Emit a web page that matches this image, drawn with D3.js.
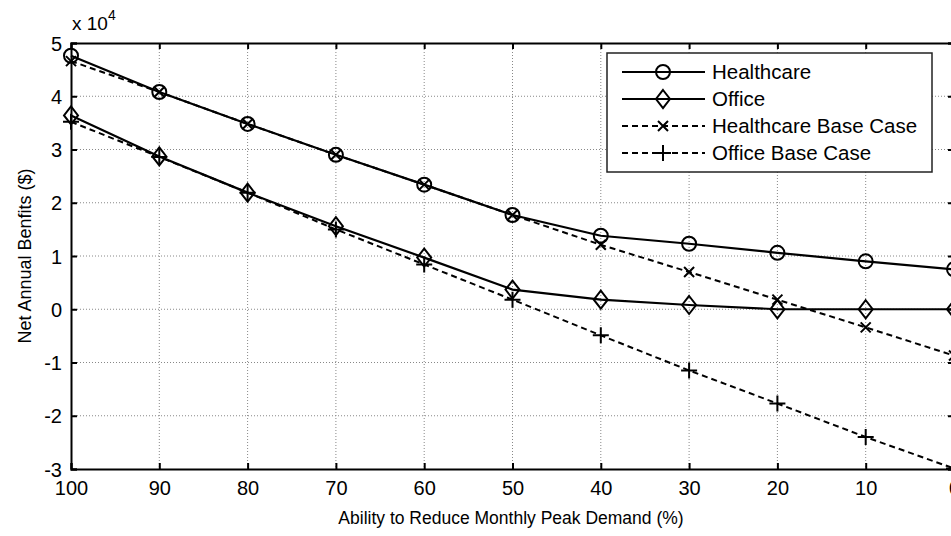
<!DOCTYPE html>
<html><head><meta charset="utf-8">
<script src="https://cdn.jsdelivr.net/npm/d3@7"></script>
<style>body{margin:0;background:#fff}svg{display:block}text{font-family:Arial,"Liberation Sans",sans-serif;fill:#000}</style>
</head><body><svg id="c" width="951" height="536"></svg>
<script>
const xValues = [100, 90, 80, 70, 60, 50, 40, 30, 20, 10, 0];
const healthcare = [4.76, 4.08, 3.48, 2.9, 2.34, 1.77, 1.38, 1.23, 1.06, 0.9, 0.75];
const office = [3.64, 2.87, 2.19, 1.56, 0.97, 0.37, 0.18, 0.08, 0.0, 0.0, 0.0];
const healthcareBase = [4.66, 4.08, 3.48, 2.9, 2.34, 1.77, 1.21, 0.7, 0.18, -0.34, -0.87];
const officeBase = [3.52, 2.86, 2.19, 1.5, 0.84, 0.18, -0.49, -1.15, -1.77, -2.4, -2.99];
const xTicks = [100, 90, 80, 70, 60, 50, 40, 30, 20, 10, 0];
const yTicks = [-3, -2, -1, 0, 1, 2, 3, 4, 5];
const seriesNames = ["Healthcare", "Office", "Healthcare Base Case", "Office Base Case"];

const svg = d3.select("#c");
const L = 71, R = 954, T = 43, B = 469;
const x = d3.scaleLinear().domain([100, 0]).range([L, R]);
const y = d3.scaleLinear().domain([-3, 5]).range([B, T]);
const fmt = d => String(d);

// grid
const g = svg.append("g");
g.selectAll(".vg").data(xTicks.filter(d => d !== 100 && d !== 0)).enter().append("line")
  .attr("x1", d => x(d)).attr("x2", d => x(d)).attr("y1", T).attr("y2", B)
  .attr("stroke", "#888").attr("stroke-width", 1).attr("stroke-dasharray", "1,2");
g.selectAll(".hg").data(yTicks.filter(d => d !== -3 && d !== 5)).enter().append("line")
  .attr("x1", L).attr("x2", R).attr("y1", d => y(d)).attr("y2", d => y(d))
  .attr("stroke", "#888").attr("stroke-width", 1).attr("stroke-dasharray", "1,2");

// axes
const xAxis = d3.axisBottom(x).tickValues(xTicks).tickSize(-6).tickPadding(12).tickFormat(fmt);
const xa = svg.append("g").attr("transform", `translate(0,${B})`).call(xAxis);
const xTop = d3.axisTop(x).tickValues(xTicks).tickSize(-6).tickFormat("");
const xt = svg.append("g").attr("transform", `translate(0,${T})`).call(xTop);
const yAxis = d3.axisLeft(y).tickValues(yTicks).tickSize(-6).tickPadding(9).tickFormat(fmt);
const ya = svg.append("g").attr("transform", `translate(${L},0)`).call(yAxis);
const yRight = d3.axisRight(y).tickValues(yTicks).tickSize(-6).tickFormat("");
const yr = svg.append("g").attr("transform", `translate(${R},0)`).call(yRight);
[xa, xt, ya, yr].forEach(a => {
  a.select(".domain").attr("stroke", "#000").attr("stroke-width", 2);
  a.selectAll(".tick line").attr("stroke", "#000").attr("stroke-width", 2);
  a.selectAll(".tick text").attr("font-size", 20).attr("font-family", "Arial, 'Liberation Sans', sans-serif").attr("fill", "#000");
});
xa.selectAll(".tick text").attr("dy", "0.71em");
ya.selectAll(".tick text").attr("dy", "0.36em");

// exponent label
const ex = svg.append("text").attr("x", 72).attr("y", 30).attr("font-size", 19);
ex.append("tspan").text("x 10");
ex.append("tspan").attr("dy", -10).attr("font-size", 14).text("4");

// axis labels
svg.append("text").attr("x", 511).attr("y", 524).attr("text-anchor", "middle").attr("font-size", 17.5)
  .text("Ability to Reduce Monthly Peak Demand (%)");
svg.append("text").attr("transform", `translate(31,${(T + B) / 2}) rotate(-90)`).attr("text-anchor", "middle").attr("font-size", 18)
  .text("Net Annual Benfits ($)");

// markers
function marker(sel, type) {
  if (type === "circle") {
    sel.append("circle").attr("r", 7).attr("fill", "none").attr("stroke", "#000").attr("stroke-width", 2);
  } else if (type === "diamond") {
    sel.append("path").attr("d", "M0,-9L7,0L0,9L-7,0Z").attr("fill", "none").attr("stroke", "#000").attr("stroke-width", 2);
  } else if (type === "x") {
    sel.append("path").attr("d", "M-5,-5L5,5M-5,5L5,-5").attr("stroke", "#000").attr("stroke-width", 2);
  } else if (type === "plus") {
    sel.append("path").attr("d", "M-8,0L8,0M0,-8L0,8").attr("stroke", "#000").attr("stroke-width", 2);
  }
}

const series = [
  { name: seriesNames[2], vals: healthcareBase, dash: "6,4", w: 2, m: "x" },
  { name: seriesNames[3], vals: officeBase, dash: "6,4", w: 2, m: "plus" },
  { name: seriesNames[0], vals: healthcare, dash: null, w: 2.2, m: "circle" },
  { name: seriesNames[1], vals: office, dash: null, w: 2.2, m: "diamond" }
];
const line = d3.line().x(d => x(d[0])).y(d => y(d[1]));
const plot = svg.append("g");
series.forEach(s => {
  const pts = xValues.map((xv, i) => [xv, s.vals[i]]);
  plot.append("path").datum(pts).attr("d", line).attr("fill", "none").attr("stroke", "#000")
    .attr("stroke-width", s.w).attr("stroke-dasharray", s.dash);
  pts.forEach(p => {
    const mg = plot.append("g").attr("transform", `translate(${x(p[0])},${y(p[1])})`);
    marker(mg, s.m);
  });
});

// legend
const lg = svg.append("g");
lg.append("rect").attr("x", 607).attr("y", 53).attr("width", 325).attr("height", 119)
  .attr("fill", "#fff").attr("stroke", "#222").attr("stroke-width", 1.5);
const legendOrder = [
  { name: seriesNames[0], dash: null, m: "circle" },
  { name: seriesNames[1], dash: null, m: "diamond" },
  { name: seriesNames[2], dash: "6,4", m: "x" },
  { name: seriesNames[3], dash: "6,4", m: "plus" }
];
legendOrder.forEach((s, i) => {
  const yy = 72 + i * 27;
  lg.append("line").attr("x1", 622).attr("x2", 705).attr("y1", yy).attr("y2", yy)
    .attr("stroke", "#000").attr("stroke-width", 2).attr("stroke-dasharray", s.dash);
  marker(lg.append("g").attr("transform", `translate(663,${yy})`), s.m);
  lg.append("text").attr("x", 712).attr("y", yy).attr("dy", "0.36em").attr("font-size", 20.5).text(s.name);
});
</script></body></html>
